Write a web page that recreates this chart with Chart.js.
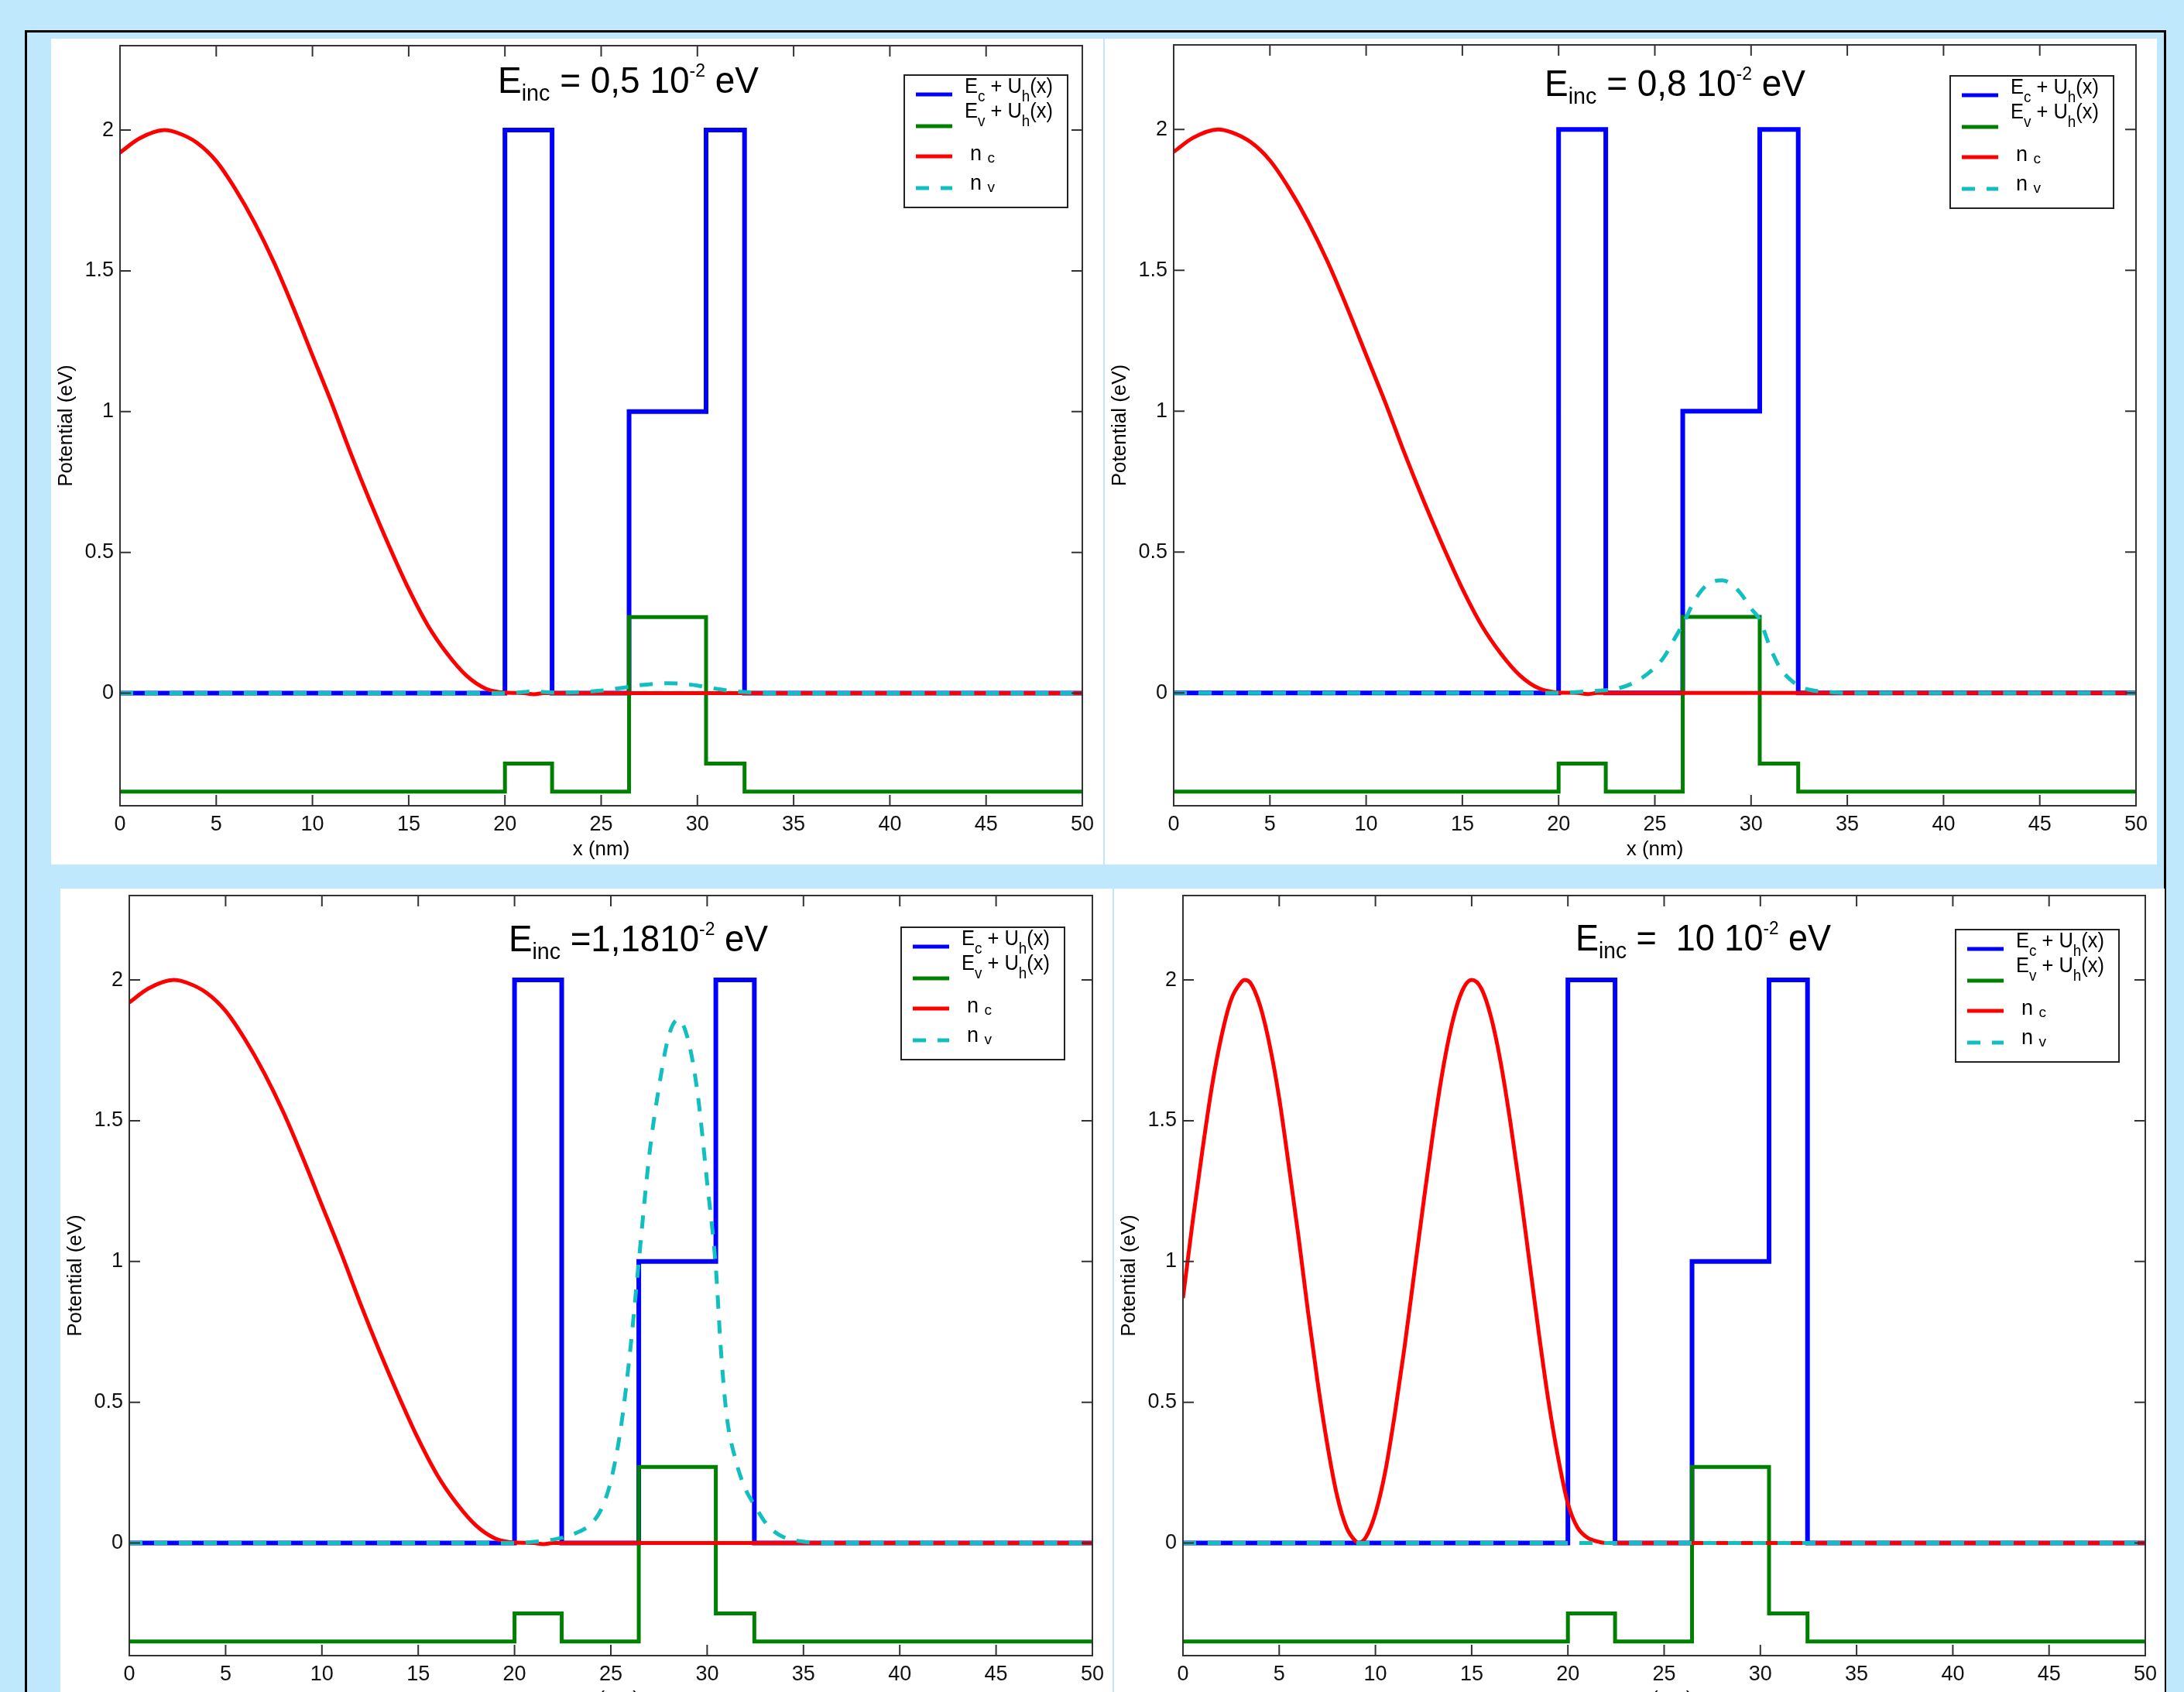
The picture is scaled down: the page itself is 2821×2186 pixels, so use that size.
<!DOCTYPE html>
<html>
<head>
<meta charset="utf-8">
<script src="https://cdn.jsdelivr.net/npm/chart.js@4.4.1/dist/chart.umd.min.js"></script>
<style>
  html, body { margin: 0; padding: 0; background: #c0e8fc; overflow: hidden; }
  #page { position: relative; width: 2821px; height: 2186px; overflow: hidden; background: #c0e8fc; }
  #border { position: absolute; left: 32px; top: 39px; width: 2766px; height: 2400px; border: 3px solid #000; box-sizing: border-box; }
  .panel { position: absolute; background: #fff; }
  .panel canvas { display: block; }
</style>
</head>
<body>
<div id="page">
  <div id="border"></div>
  <div class="panel" style="left:66px;top:50px;width:1359px;height:1067px"><canvas id="c0" width="1359" height="1067"></canvas></div>
  <div class="panel" style="left:1427px;top:50px;width:1359px;height:1067px"><canvas id="c1" width="1359" height="1067"></canvas></div>
  <div class="panel" style="left:78px;top:1148px;width:1359px;height:1067px"><canvas id="c2" width="1359" height="1067"></canvas></div>
  <div class="panel" style="left:1439px;top:1148px;width:1357px;height:1067px"><canvas id="c3" width="1357" height="1067"></canvas></div>
</div>
<script>
// axes
var xTickValues = [0, 5, 10, 15, 20, 25, 30, 35, 40, 45, 50];
var yTickValues = [0, 0.5, 1, 1.5, 2];

// potential profile (step edges in nm, level on each interval)
var edgeX = [0, 20, 22.45, 26.45, 30.45, 32.45, 50];
var ecLevels = [0, 2, 0, 1, 2, 0, 0];
var evLevels = [-0.35, -0.25, -0.35, 0.27, -0.25, -0.35, -0.35];

// n_c, first three panels
var ncLowX = [0, 1, 2.3, 3, 4, 5, 6, 7, 8, 9, 10, 11, 12, 13, 14, 15, 16, 17, 18, 19, 20, 21, 21.5, 22, 22.45, 50];
var ncLowY = [1.92, 1.97, 2.0, 1.99, 1.955, 1.89, 1.79, 1.67, 1.53, 1.37, 1.2, 1.03, 0.85, 0.68, 0.52, 0.37, 0.24, 0.14, 0.062, 0.016, 0.002, 0, -0.004, 0, 0, 0];

// n_c, last panel
var ncHighX = [0, 0.5, 1, 1.5, 2, 2.5, 3, 3.2, 3.5, 4, 4.5, 5, 5.5, 6, 6.5, 7, 7.5, 8, 8.5, 9, 9.1,
  9.5, 10, 10.5, 11, 11.5, 12, 12.5, 13, 13.5, 14, 14.5, 15, 15.5, 16, 16.5, 17, 17.5, 18, 18.5, 19, 19.5, 20, 20.5, 21, 21.5, 22, 50];
var ncHighY = [0.87, 1.14, 1.39, 1.62, 1.8, 1.93, 1.99, 2.0, 1.99, 1.91, 1.77, 1.58, 1.34, 1.09, 0.82, 0.57, 0.35, 0.17, 0.055, 0.004, 0,
  0.02, 0.105, 0.25, 0.455, 0.69, 0.95, 1.21, 1.46, 1.68, 1.85, 1.96, 2.0, 1.97, 1.87, 1.71, 1.5, 1.26, 1.0, 0.74, 0.5, 0.3, 0.14, 0.055, 0.02, 0.006, 0, 0];

// n_v per energy
var nv05X = [0, 20, 21, 21.5, 22, 23, 24, 25, 26, 27, 28, 28.5, 29, 30, 31, 32, 33, 34, 50];
var nv05Y = [0, 0, 0.004, 0.008, 0.004, 0.002, 0.004, 0.009, 0.018, 0.028, 0.034, 0.035, 0.034, 0.027, 0.015, 0.006, 0.002, 0, 0];
var nv08X = [0, 20, 21, 22, 23, 24, 25, 25.5, 26, 26.5, 27, 27.5, 28, 28.5, 29, 29.5, 30, 30.45, 31, 31.5, 32, 32.5, 33, 34, 35, 50];
var nv08Y = [0, 0, 0.004, 0.008, 0.015, 0.04, 0.09, 0.13, 0.19, 0.25, 0.32, 0.37, 0.395, 0.4, 0.385, 0.35, 0.3, 0.26, 0.16, 0.09, 0.05, 0.025, 0.012, 0.004, 0, 0];
var nv118X = [0, 20, 21, 22, 23, 24, 24.5, 25, 25.5, 26, 26.45, 27, 27.5, 28, 28.5, 29, 29.5, 30, 30.45, 30.7, 31, 31.5, 32, 32.5, 33, 33.5, 34, 35, 36, 50];
var nv118Y = [0, 0, 0.004, 0.012, 0.03, 0.07, 0.12, 0.22, 0.4, 0.68, 1.0, 1.38, 1.62, 1.8, 1.86, 1.79, 1.6, 1.28, 0.98, 0.7, 0.46, 0.29, 0.19, 0.13, 0.075, 0.04, 0.02, 0.005, 0, 0];
var nv10X = [0, 50];
var nv10Y = [0, 0];

// texts (_{} subscript, ^{} superscript, ~{} small drop)
var panelTitles = ["E_{inc} = 0,5 10^{-2} eV", "E_{inc} = 0,8 10^{-2} eV", "E_{inc} =1,1810^{-2} eV", "E_{inc} =  10 10^{-2} eV"];
var seriesLabels = ["E_{c} + U_{h}(x)", "E_{v} + U_{h}(x)", "n ~{c}", "n ~{v}"];
var xTitle = "x (nm)";
var yTitle = "Potential (eV)";

var FONT = '"Liberation Sans", Arial, Helvetica, sans-serif';

var panels = [
  { id: "c0", padTop: 9, padRight: 27, nc: [ncLowX, ncLowY], nv: [nv05X, nv05Y], title: [488, 61, 337], legend: [1013, 38] },
  { id: "c1", padTop: 8, padRight: 27, nc: [ncLowX, ncLowY], nv: [nv08X, nv08Y], title: [479, 66, 337], legend: [1003, 40] },
  { id: "c2", padTop: 9, padRight: 26, nc: [ncLowX, ncLowY], nv: [nv118X, nv118Y], title: [490, 72, 335], legend: [997, 41] },
  { id: "c3", padTop: 9, padRight: 25, nc: [ncHighX, ncHighY], nv: [nv10X, nv10Y], title: [507, 71, 330], legend: [998, 44] }
];

function richParts(text) {
  var parts = [], re = /([_^~])\{([^}]*)\}|([^_^~]+)/g, m;
  while ((m = re.exec(text))) {
    if (m[3]) parts.push({ t: m[3], k: "n" });
    else parts.push({ t: m[2], k: m[1] });
  }
  return parts;
}

function drawRich(ctx, text, x, y, st, width) {
  var parts = richParts(text), w = 0;
  parts.forEach(function(p) {
    ctx.font = st[p.k].size + "px " + FONT;
    p.w = ctx.measureText(p.t).width;
    w += p.w;
  });
  var sx = width ? width / w : 1;
  ctx.save();
  ctx.translate(x, y);
  ctx.scale(sx, 1);
  ctx.textAlign = "left";
  ctx.textBaseline = "alphabetic";
  ctx.fillStyle = "#000";
  var cx = 0;
  parts.forEach(function(p) {
    ctx.font = st[p.k].size + "px " + FONT;
    ctx.fillText(p.t, cx, st[p.k].dy);
    cx += p.w;
  });
  ctx.restore();
}

var titleStyle = { n: { size: 48, dy: 0 }, _: { size: 30, dy: 10 }, "^": { size: 24, dy: -21 }, "~": { size: 30, dy: 4 } };
var legendStyle = { n: { size: 27, dy: 0 }, _: { size: 20, dy: 11 }, "^": { size: 18, dy: -10 }, "~": { size: 19, dy: 3 } };

Chart.register({
  id: "panelDecor",
  afterDatasetsDraw: function(chart) {
    var ctx = chart.ctx, a = chart.chartArea;
    var xs = chart.scales.x, ys = chart.scales.y;
    ctx.save();
    ctx.strokeStyle = "#333";
    ctx.lineWidth = 2;
    ctx.strokeRect(a.left, a.top, a.right - a.left, a.bottom - a.top);
    ctx.beginPath();
    xTickValues.forEach(function(v) {
      var px = xs.getPixelForValue(v);
      ctx.moveTo(px, a.bottom); ctx.lineTo(px, a.bottom - 14);
      ctx.moveTo(px, a.top); ctx.lineTo(px, a.top + 14);
    });
    yTickValues.forEach(function(v) {
      var py = ys.getPixelForValue(v);
      ctx.moveTo(a.left, py); ctx.lineTo(a.left + 14, py);
      ctx.moveTo(a.right, py); ctx.lineTo(a.right - 14, py);
    });
    ctx.stroke();
    ctx.restore();
  },
  afterDraw: function(chart, args, o) {
    var ctx = chart.ctx, a = chart.chartArea;
    drawRich(ctx, o.title, a.left + o.titlePos[0], a.top + o.titlePos[1], titleStyle, o.titlePos[2]);

    // legend box
    var bx = a.left + o.legendPos[0], by = a.top + o.legendPos[1];
    ctx.save();
    ctx.fillStyle = "#fff";
    ctx.fillRect(bx, by, 211, 171);
    ctx.strokeStyle = "#222";
    ctx.lineWidth = 2;
    ctx.strokeRect(bx, by, 211, 171);
    var lineY = [25, 66, 105, 146];
    var textY = [23, 55, 110, 148];
    var textX = [78, 78, 85, 85];
    var textW = [114, 114, 0, 0];
    chart.data.datasets.forEach(function(ds, i) {
      ctx.save();
      ctx.strokeStyle = ds.borderColor;
      ctx.lineWidth = 5;
      ctx.setLineDash(ds.borderDash || []);
      ctx.beginPath();
      ctx.moveTo(bx + 15, by + lineY[i]);
      ctx.lineTo(bx + 62, by + lineY[i]);
      ctx.stroke();
      ctx.restore();
      drawRich(ctx, ds.label, bx + textX[i], by + textY[i], legendStyle, textW[i]);
    });
    ctx.restore();
  }
});

function pts(xs, ys) {
  return xs.map(function(x, i) { return { x: x, y: ys[i] }; });
}

panels.forEach(function(p, k) {
  var ctx = document.getElementById(p.id).getContext("2d");
  new Chart(ctx, {
    type: "line",
    data: {
      datasets: [
        { label: seriesLabels[0], data: pts(edgeX, ecLevels), stepped: true, borderColor: "#0000ff", borderWidth: 6, order: 3 },
        { label: seriesLabels[1], data: pts(edgeX, evLevels), stepped: true, borderColor: "#008000", borderWidth: 5, order: 2 },
        { label: seriesLabels[2], data: pts(p.nc[0], p.nc[1]), cubicInterpolationMode: "monotone", borderColor: "#ff0000", borderWidth: 5, order: 1 },
        { label: seriesLabels[3], data: pts(p.nv[0], p.nv[1]), cubicInterpolationMode: "monotone", borderColor: "#12bfc0", borderWidth: 5, borderDash: [17, 15], order: 0 }
      ]
    },
    options: {
      responsive: false,
      animation: false,
      layout: { padding: { top: p.padTop, right: p.padRight, left: 0, bottom: 0 } },
      elements: {
        point: { radius: 0 },
        line: { borderJoinStyle: "miter", borderCapStyle: "butt", fill: false }
      },
      plugins: {
        legend: { display: false },
        tooltip: { enabled: false },
        panelDecor: { title: panelTitles[k], titlePos: p.title, legendPos: p.legend }
      },
      scales: {
        x: {
          type: "linear",
          min: 0,
          max: 50,
          grid: { display: false, drawTicks: false },
          border: { display: false },
          ticks: { autoSkip: false, maxRotation: 0, padding: 8, color: "#111", font: { family: FONT, size: 27 } },
          afterBuildTicks: function(s) { s.ticks = xTickValues.map(function(v) { return { value: v }; }); },
          afterFit: function(s) { s.height = 76; s.paddingLeft = 0; s.paddingRight = 0; s.paddingTop = 0; s.paddingBottom = 0; },
          title: { display: true, text: xTitle, color: "#000", font: { family: FONT, size: 26 }, padding: { top: 0, bottom: 4 } }
        },
        y: {
          min: -0.4,
          max: 2.3,
          grid: { display: false, drawTicks: false },
          border: { display: false },
          ticks: {
            padding: 8, color: "#111", font: { family: FONT, size: 27 },
            callback: function(v) { return String(v); }
          },
          afterBuildTicks: function(s) { s.ticks = yTickValues.map(function(v) { return { value: v }; }); },
          afterFit: function(s) { s.width = 89; s.paddingLeft = 0; s.paddingRight = 0; s.paddingTop = 0; s.paddingBottom = 0; },
          title: { display: true, text: yTitle, color: "#000", font: { family: FONT, size: 26 }, padding: { top: 4, bottom: 0 } }
        }
      }
    }
  });
});
</script>
</body>
</html>
